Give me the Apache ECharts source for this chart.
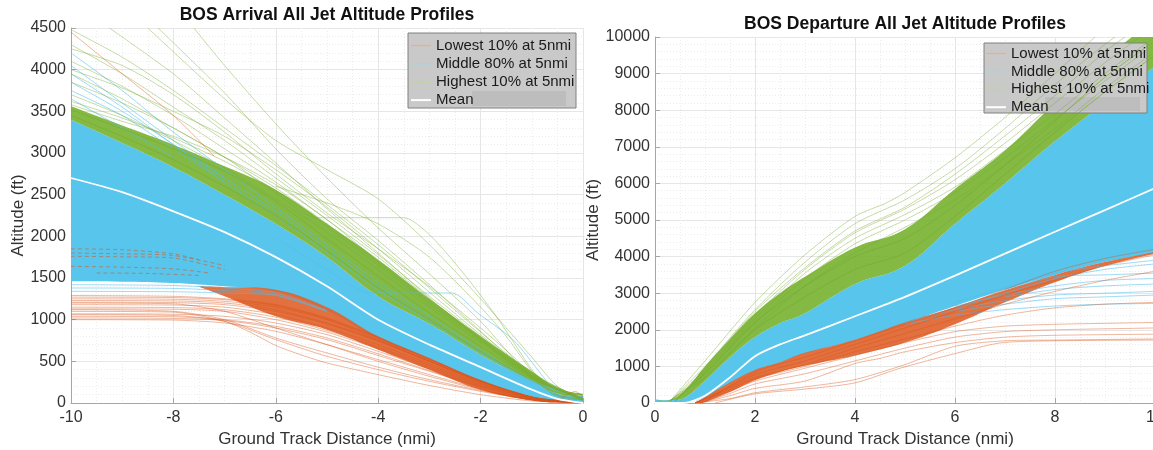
<!DOCTYPE html>
<html>
<head>
<meta charset="utf-8">
<script src="https://cdn.jsdelivr.net/npm/echarts@6/dist/echarts.min.js"></script>
<style>
  html, body { margin: 0; padding: 0; background: #ffffff; }
  #chart { width: 1153px; height: 450px; }
</style>
</head>
<body>
<div id="chart"></div>
<script>
// ---------- Arrival panel (ground track distance, nmi, negative = before threshold) ----------
const arrX = [-10, -9, -8, -7, -6, -5, -4, -3, -2, -1, -0.5, 0];
const arrMean = [2700, 2530, 2300, 2050, 1750, 1400, 1000, 700, 430, 160, 50, 0];
const arrGreenHi = [3560, 3330, 3100, 2840, 2560, 2150, 1720, 1250, 800, 380, 180, 110];
const arrBlueHi = [3400, 3120, 2830, 2500, 2150, 1750, 1280, 950, 580, 260, 110, 90];
const arrBlueLo = [1460, 1455, 1440, 1400, 1340, 1110, 770, 520, 260, 70, 15, 0];
const arrOrangeX = [-7.5, -7, -6, -5, -4, -3, -2, -1, -0.5, 0];
const arrOrangeHi = [1400, 1390, 1360, 1150, 800, 540, 275, 80, 20, 0];
const arrOrangeLo = [1395, 1280, 1040, 880, 640, 400, 160, 30, 5, 0];

// individual arrival tracks [distance, altitude]
const arrGreenTracks = [
  [[-10,4300],[-9,3950],[-8,3550],[-7,3150],[-6,2700],[-5,2250],[-4,1780],[-3,1280],[-2,800],[-1,340],[0,50]],
  [[-9.25,4500],[-8,3950],[-7,3420],[-6,2880],[-5,2330],[-4,1800],[-3,1260],[-2,760],[-1,300],[0,30]],
  [[-8.3,4500],[-7,3720],[-6,3050],[-5,2450],[-4,1950],[-3,1420],[-2,860],[-1,320],[0,30]],
  [[-10,3950],[-9,3650],[-8,3300],[-7,2950],[-6,2520],[-5.2,2224],[-3.5,2224],[-3,2020],[-2.34,1560],[-1.69,1036],[-1.04,436],[-0.71,190],[-0.4,60],[0,40]],
  [[-10,4100],[-9,3800],[-8,3450],[-7,3050],[-6,2650],[-5,2200],[-4,1750],[-3,1250],[-2,780],[-1,330],[0,40]],
  [[-10,4000],[-9,3780],[-8,3500],[-7,3200],[-6,2800],[-5,2350],[-4,1850],[-3,1330],[-2,820],[-1,350],[0,40]],
  [[-10,3850],[-9,3600],[-8,3300],[-7,2950],[-6,2580],[-5,2150],[-4,1680],[-3,1200],[-2,760],[-1,320],[0,40]],
  [[-8.5,4500],[-7,3650],[-6,3150],[-5,2800],[-4,2450],[-3,1900],[-2,1250],[-1,550],[-0.5,200],[0,40]],
  [[-10,4480],[-9,4150],[-8,3750],[-7,3300],[-6,2850],[-5,2380],[-4,1900],[-3,1380],[-2,850],[-1,360],[0,40]],
  [[-10,3700],[-9,3450],[-8,3150],[-7,2820],[-6,2450],[-5,2050],[-4,1600],[-3,1150],[-2,720],[-1,310],[0,40]],
  [[-10,4250],[-9,4050],[-8,3700],[-7,3250],[-6,2750],[-5,2280],[-4,1850],[-3,1400],[-2,900],[-1.3,520],[-0.8,200],[0,40]],
  [[-6,2600],[-5,2400],[-4,2150],[-3,1750],[-2,1150],[-1.5,800],[-1,380],[-0.6,110],[0,40]],
  [[-7.6,4500],[-7,4050],[-6,3350],[-5,2700],[-4,2100],[-3,1550],[-2,980],[-1.2,430],[-0.6,120],[0,40]],
  [[-10,3620],[-9,3420],[-8,3180],[-7,2900],[-6,2550],[-5,2120],[-4,1650],[-3,1180],[-2,740],[-1,320],[0,40]],
  [[-10,3580],[-9,3380],[-8,3200],[-7,2950],[-6,2620],[-5,2200],[-4,1700],[-3,1220],[-2,770],[-1,330],[0,40]]
];
const arrGreenDense = [
  [[-10,3520],[-9,3290],[-8,3050],[-7,2780],[-6,2420],[-5,1970],[-4,1520],[-3,1080],[-2,680],[-1,300],[0,60]],
  [[-10,3450],[-9,3200],[-8,2920],[-7,2600],[-6,2250],[-5,1830],[-4,1380],[-3,1000],[-2,620],[-1,280],[0,50]]
];
const arrBlueTracks = [
  [[-10,4200],[-9,3750],[-8,3250],[-7,2800],[-6,2350],[-5,1900],[-4,1450],[-3,1050],[-2,640],[-1,270],[0,60]],
  [[-10,3950],[-9,3550],[-8,3100],[-7,2700],[-6,2300],[-5,1850],[-4,1400],[-3,1000],[-2,620],[-1,260],[0,60]],
  [[-10,3750],[-9,3450],[-8,3050],[-7,2650],[-6,2250],[-5,1800],[-4,1350],[-3,980],[-2,600],[-1,250],[0,60]],
  [[-10,4050],[-9,3600],[-8,3150],[-7,2700]],
  [[-10,3850],[-9,3500],[-8,3100],[-7,2650]],
  [[-10,3650],[-9,3300],[-8,2950]],
  [[-6,1980],[-5,1600],[-4.16,1320],[-2.56,1320],[-2.05,1076],[-1.36,756],[-0.78,316],[-0.5,100],[0,30]],
  [[-10,1340],[-8,1335],[-7,1320],[-6,1290],[-5,1100]],
  [[-10,1380],[-8,1375],[-7,1350],[-6,1300],[-5,1100]],
  [[-10,1420],[-8,1410],[-7,1380],[-6,1320],[-5,1110]]
];
const arrOrangeTracks = [
  [[-10,1000],[-8,995],[-7,960],[-6,860],[-5,700],[-4,520],[-3,340],[-2,170],[-1,40],[0,0]],
  [[-10,1020],[-8,1015],[-7,990],[-6,900],[-5,760],[-4,570],[-3,380],[-2,190],[-1,45],[0,0]],
  [[-10,1040],[-8,1035],[-7,1000],[-6,920],[-5,780],[-4,590],[-3,390],[-2,200],[-1,50],[0,0]],
  [[-10,1070],[-8,1065],[-7,1040],[-6,960],[-5,820],[-4,620],[-3,410],[-2,210],[-1,55],[0,0]],
  [[-10,1100],[-8,1090],[-7,980],[-6.5,850],[-6,690],[-5.5,576],[-5,480],[-4,340],[-3,210],[-2,100],[-1,25],[0,0]],
  [[-10,1120],[-8,1100],[-7,1000],[-6,780],[-5,600],[-4,430],[-3,280],[-2,150],[-1,40],[0,0]],
  [[-10,1130],[-8,1125],[-7,1100],[-6,1000],[-5,850],[-4,650],[-3,430],[-2,220],[-1,60],[0,0]],
  [[-10,1150],[-8,1145],[-7,1120],[-6,1030],[-5,870],[-4,670],[-3,450],[-2,230],[-1,60],[0,0]],
  [[-10,1180],[-8,1175],[-7,1150],[-6,1060],[-5,900],[-4,700],[-3,470],[-2,240],[-1,60],[0,0]],
  [[-10,1200],[-8,1190],[-7,1100],[-6,900],[-5,700],[-4,500],[-3,320],[-2,160],[-1,40],[0,0]],
  [[-10,1210],[-8,1205],[-7,1180],[-6,1100],[-5,950],[-4,740],[-3,500],[-2,250],[-1,70],[0,0]],
  [[-10,1230],[-8,1225],[-7,1200],[-6,1120],[-5,960],[-4,750],[-3,500],[-2,255],[-1,70],[0,0]],
  [[-10,1250],[-8,1245],[-7,1220],[-6,1150],[-5,1000],[-4,760],[-3,500],[-2,260],[-1,70],[0,0]],
  [[-10,1270],[-8,1265],[-7,1240],[-6,1170],[-5,1010],[-4,780],[-3,520],[-2,265],[-1,70],[0,0]],
  [[-10,1290],[-8,1280],[-7,1250],[-6,1180],[-5,1020],[-4,790],[-3,530],[-2,270],[-1,70],[0,0]],
  [[-10,1060],[-8,1050],[-7,980],[-6,760],[-5,560],[-4,400],[-3,260],[-2,140],[-1,40],[0,0]],
  [[-10,4450],[-9,3950],[-8,3450],[-7.2,2960]],
  [[-1.2,60],[-0.6,15],[-0.3,100],[-0.15,140],[0,70]]
];
const arrOrangeDashed = [
  [[-10,1850],[-9,1840],[-8,1790],[-7.5,1720]],
  [[-10,1800],[-9,1790],[-8,1770],[-7,1650]],
  [[-10,1760],[-9,1755],[-8,1740],[-7,1600]],
  [[-9.5,1560],[-8.5,1555],[-7.5,1530]],
  [[-10,1640],[-9,1630],[-8,1610],[-7.3,1560]]
];

// ---------- Departure panel (distance from runway, nmi) ----------
const depX = [0, 0.3, 0.6, 1, 1.5, 2, 2.5, 3, 4, 5, 6, 7, 8, 9, 10];
const depMean = [0, 0, 5, 200, 700, 1280, 1600, 1850, 2370, 2900, 3480, 4080, 4680, 5270, 5870];
const depGreenHi = [90, 90, 350, 1000, 1750, 2450, 3000, 3450, 4250, 4750, 5850, 6900, 8200, 9400, 10500];
const depBlueHi = [90, 80, 150, 600, 1250, 1800, 2180, 2450, 3250, 3750, 4900, 6000, 7150, 8200, 9200];
const depBlueLo = [0, 0, 0, 150, 540, 880, 1100, 1350, 1720, 2180, 2650, 3100, 3500, 3850, 4100];
const depOrangeX = [0.8, 1, 1.5, 2, 2.5, 3, 4, 5, 6, 7, 8, 9, 10];
const depOrangeHi = [20, 160, 560, 900, 1110, 1370, 1730, 2200, 2620, 3080, 3500, 3850, 4120];
const depOrangeLo = [0, 30, 300, 620, 850, 1020, 1300, 1650, 2150, 2750, 3300, 3750, 4080];

const depGreenTracks = [
  [[0.3,50],[1,1150],[2,2750],[3,4050],[4,5100],[4.6,5450],[5,5750],[6,6700],[7,7800],[8,9000],[8.8,10000]],
  [[0.3,50],[1,1000],[2,2550],[3,3850],[4,4900],[5,5550],[6,6400],[7,7500],[8,8700],[9,9800],[9.2,10000]],
  [[0.3,50],[1,900],[2,2400],[3,3650],[4,4650],[5,5300],[6,6100],[7,7100],[8,8200],[9,9300],[9.7,10000]],
  [[0.4,50],[1,850],[2,2300],[3,3550],[4,4500],[5,5150],[6,5900],[7,6900],[8,7900],[9,9000],[10,10000]],
  [[0.4,50],[1,800],[2,2200],[3,3400],[4,4350],[5,5000],[6,5750],[7,6700],[8,7750],[9,8800],[10,9800]],
  [[0.5,50],[1,700],[2,2050],[3,3200],[4,4100],[5,4800],[6,5550],[7,6500],[8,7500],[9,8600],[10,9600]],
  [[0.4,40],[1,950],[2,2500],[3,3700],[4,4700],[5,5350],[6,6250],[7,7300],[8,8400],[9,9600],[9.4,10000]]
];
const depGreenDense = [
  [[0.3,60],[1,800],[2,2200],[3,3200],[4,4000],[5,4500],[6,5400],[7,6500],[8,7700],[9,8900],[10,9900]],
  [[0.3,60],[1,700],[2,2000],[3,2900],[4,3650],[5,4100],[6,5100],[7,6250],[8,7400],[9,8500],[10,9500]]
];
const depBlueTracks = [
  [[5,2150],[6,2400],[7,2550],[8,2650],[9,2700],[10,2720]],
  [[5,2200],[6,2550],[7,2800],[8,2950],[9,3000],[10,3050]],
  [[6,2500],[7,2700],[8,2850],[9,2900],[10,2950]],
  [[6,2650],[7,2950],[8,3200],[9,3350],[10,3400]],
  [[6,2600],[7,3000],[8,3400],[9,3650],[10,3800]],
  [[6,2750],[7,3150],[8,3550],[9,3750],[10,3900]],
  [[7,2900],[8,3100],[9,3200],[10,3250]],
  [[7,3100],[8,3450],[9,3500],[10,3550]]
];
const depOrangeTracks = [
  [[0.8,0],[1.5,120],[2,280],[3,440],[4,640],[5,1050],[6,1550],[7,1700],[8,1720],[10,1750]],
  [[0.9,0],[1.5,200],[2,400],[3,600],[4,1080],[4.5,1220],[5,1400],[6,1650],[7,1800],[8,1850],[10,1880]],
  [[0.9,0],[1.5,260],[2,520],[3,800],[4,1150],[5,1500],[6,1800],[7,1950],[8,2000],[10,2050]],
  [[0.8,0],[1.5,330],[2,600],[3,950],[4,1300],[5,1650],[6,1950],[7,2100],[8,2150],[10,2200]],
  [[0.8,0],[1.5,380],[2,660],[3,1000],[4,1400],[5,1750],[6,2100],[7,2400],[8,2600],[9,2700],[10,2750]],
  [[0.8,0],[1.5,420],[2,700],[3,1050],[4,1500],[5,1900],[6,2300],[7,2700],[8,3050],[9,3350],[10,3600]],
  [[0.8,0],[1.5,450],[2,780],[3,1150],[4,1600],[5,2050],[6,2500],[7,2950],[8,3350],[9,3750],[10,4050]],
  [[1,40],[2,850],[3,1250],[4,1700],[5,2150],[6,2600],[7,3100],[8,3600],[9,3950],[10,4200]],
  [[1.2,0],[2,250],[3,380],[4,550],[4.9,950],[6,1350],[6.9,1640],[8,1700],[10,1720]]
];

// ---------- names and tick settings ----------
const groupNames = ['Lowest 10% at 5nmi', 'Middle 80% at 5nmi', 'Highest 10% at 5nmi', 'Mean'];
const arrTicks = { min: -10, max: 0, step: 2, yMax: 4500, yStep: 500 };
const depTicks = { min: 0, max: 10, step: 2, yMax: 10000, yStep: 1000 };

// ---------- styling ----------
const FONT = "'Liberation Sans', Arial, Helvetica, sans-serif";
const C_BLUE = '#58c5ec';
const C_GREEN = '#7ab434';
const C_ORANGE = '#e0602a';
const C_BLUE_T = 'rgba(77,190,238,0.55)';
const C_GREEN_T = 'rgba(119,172,48,0.42)';
const C_ORANGE_T = 'rgba(217,83,25,0.42)';

function track(name, pts, ax, color, width, extra) {
  return Object.assign({
    type: 'line', name: name, xAxisIndex: ax, yAxisIndex: ax,
    data: pts, symbol: 'none', showSymbol: false,
    smooth: 0.25, silent: true, animation: false,
    emphasis: { disabled: true },
    lineStyle: { color: color, width: width }
  }, extra || {});
}

// Catmull-Rom style curve through pixel points, as SVG path commands
function curveThrough(pts, first) {
  let d = first ? 'M' + pts[0][0] + ',' + pts[0][1] : 'L' + pts[0][0] + ',' + pts[0][1];
  const k = 0.2;
  for (let i = 0; i < pts.length - 1; i++) {
    const p0 = pts[i - 1] || pts[i], p1 = pts[i], p2 = pts[i + 1], p3 = pts[i + 2] || p2;
    const c1x = p1[0] + (p2[0] - p0[0]) * k, c1y = p1[1] + (p2[1] - p0[1]) * k;
    const c2x = p2[0] - (p3[0] - p1[0]) * k, c2y = p2[1] - (p3[1] - p1[1]) * k;
    d += 'C' + c1x + ',' + c1y + ' ' + c2x + ',' + c2y + ' ' + p2[0] + ',' + p2[1];
  }
  return d;
}

// filled envelope between a lower and an upper edge, drawn through the axes' scales
function band(name, xs, lo, hi, ax, color, opacity) {
  return {
    type: 'custom', name: name, xAxisIndex: ax, yAxisIndex: ax,
    silent: true, animation: false, clip: true,
    data: xs.map((x, i) => [x, lo[i], hi[i]]),
    encode: { x: 0, y: [1, 2] },
    renderItem: function (params, api) {
      if (params.dataIndex !== 0) return null;
      const up = xs.map((x, i) => api.coord([x, hi[i]]));
      const dn = xs.map((x, i) => api.coord([x, lo[i]])).reverse();
      return {
        type: 'path',
        shape: { pathData: curveThrough(up, true) + curveThrough(dn, false) + 'Z' },
        style: { fill: color, opacity: opacity, stroke: null }
      };
    }
  };
}

function panelSeries(ax, d) {
  const s = [];
  const [LOW, MID, HIGH, MEAN] = groupNames;
  s.push(band(MID, d.x, d.blueLo, d.blueHi, ax, C_BLUE, 1));
  d.blueTracks.forEach(p => s.push(track(MID, p, ax, C_BLUE_T, 1)));
  s.push(band(HIGH, d.x, d.blueHi, d.greenHi, ax, C_GREEN, 0.92));
  d.greenDense.forEach(p => s.push(track(HIGH, p, ax, 'rgba(119,172,48,0.7)', 1)));
  d.greenTracks.forEach(p => s.push(track(HIGH, p, ax, C_GREEN_T, 1)));
  s.push(band(LOW, d.ox, d.orangeLo, d.orangeHi, ax, C_ORANGE, 0.9));
  d.orangeTracks.forEach(p => s.push(track(LOW, p, ax, C_ORANGE_T, 1)));
  (d.orangeDashed || []).forEach(p => s.push(track(LOW, p, ax, 'rgba(217,83,25,0.55)', 1, {
    lineStyle: { color: 'rgba(217,83,25,0.55)', width: 1, type: [4, 3] }
  })));
  s.push(track(MEAN, d.x.map((x, i) => [x, d.mean[i]]), ax, '#ffffff', 1.8, { z: 5 }));
  return s;
}

const series = [].concat(
  panelSeries(0, {
    x: arrX, mean: arrMean, greenHi: arrGreenHi, blueHi: arrBlueHi, blueLo: arrBlueLo,
    ox: arrOrangeX, orangeHi: arrOrangeHi, orangeLo: arrOrangeLo,
    greenTracks: arrGreenTracks, greenDense: arrGreenDense, blueTracks: arrBlueTracks,
    orangeTracks: arrOrangeTracks, orangeDashed: arrOrangeDashed
  }),
  panelSeries(1, {
    x: depX, mean: depMean, greenHi: depGreenHi, blueHi: depBlueHi, blueLo: depBlueLo,
    ox: depOrangeX, orangeHi: depOrangeHi, orangeLo: depOrangeLo,
    greenTracks: depGreenTracks, greenDense: depGreenDense, blueTracks: depBlueTracks,
    orangeTracks: depOrangeTracks
  })
);

const legendColors = ['#eeab8e', '#9dd6ee', '#bcd69a', '#ffffff'];
function legendData() {
  return groupNames.map((n, i) => ({
    name: n,
    icon: i === 3 ? 'path://M0,0H20V2H0Z' : 'path://M0,0H20V1.3H0Z',
    itemStyle: { color: legendColors[i], opacity: 1, borderWidth: 0 }
  }));
}
function legendOpt(left, top, gap) {
  return {
    orient: 'vertical', left: left, top: top, padding: 0,
    itemWidth: 20, itemHeight: 14, itemGap: gap, symbolKeepAspect: true,
    selectedMode: false, backgroundColor: 'transparent',
    textStyle: { fontFamily: FONT, fontSize: 15, color: '#1a1a1a' },
    data: legendData()
  };
}

const plainNumber = v => String(v);

function xAxisOpt(ax, t, nameGap) {
  return {
    type: 'value', gridIndex: ax, min: t.min, max: t.max, interval: t.step,
    name: 'Ground Track Distance (nmi)', nameLocation: 'middle', nameGap: nameGap,
    nameTextStyle: { fontFamily: FONT, fontSize: 17, color: '#333' },
    axisLine: { show: true, onZero: false, lineStyle: { color: '#a6a6a6', width: 1 } },
    axisTick: { show: true, inside: true, length: 5, lineStyle: { color: '#a6a6a6' } },
    axisLabel: { fontFamily: FONT, fontSize: 16, color: '#333', margin: 7, formatter: plainNumber,
                 showMaxLabel: true, showMinLabel: true },
    splitLine: { show: true, lineStyle: { color: '#e6e6e6', width: 1 } },
    minorTick: { show: false, splitNumber: 4 },
    minorSplitLine: { show: true, lineStyle: { color: '#ececec', width: 1, type: [1, 2] } }
  };
}
function yAxisOpt(ax, t, nameGap) {
  return {
    type: 'value', gridIndex: ax, min: 0, max: t.yMax, interval: t.yStep,
    name: 'Altitude (ft)', nameLocation: 'middle', nameGap: nameGap, nameRotate: 90,
    nameTextStyle: { fontFamily: FONT, fontSize: 17, color: '#333' },
    axisLine: { show: true, onZero: false, lineStyle: { color: '#a6a6a6', width: 1 } },
    axisTick: { show: true, inside: true, length: 5, lineStyle: { color: '#a6a6a6' } },
    axisLabel: { fontFamily: FONT, fontSize: 16, color: '#333', margin: 5, formatter: plainNumber },
    splitLine: { show: true, lineStyle: { color: '#e6e6e6', width: 1 } },
    minorTick: { show: false, splitNumber: 5 },
    minorSplitLine: { show: true, lineStyle: { color: '#ececec', width: 1, type: [1, 2] } }
  };
}

const option = {
  backgroundColor: '#ffffff',
  animation: false,
  grid: [
    { left: 71, width: 512, top: 28, height: 375, containLabel: false, outerBoundsMode: 'none' },
    { left: 655, width: 500, top: 37, height: 366, containLabel: false, outerBoundsMode: 'none' }
  ],
  xAxis: [xAxisOpt(0, arrTicks, 28), xAxisOpt(1, depTicks, 28)],
  yAxis: [yAxisOpt(0, arrTicks, 32), yAxisOpt(1, depTicks, 41)],
  legend: [legendOpt(411, 38, 3.2), legendOpt(986, 46, 2.9)],
  graphic: [
    { type: 'rect', z: 3, silent: true, shape: { x: 408, y: 33, width: 168, height: 75 },
      style: { fill: '#c9c9c9', stroke: '#808080', lineWidth: 1 } },
    { type: 'rect', z: 3, silent: true, shape: { x: 472, y: 91, width: 94, height: 15 },
      style: { fill: '#bdbdbd' } },
    { type: 'rect', z: 3, silent: true, shape: { x: 984, y: 43, width: 163, height: 70 },
      style: { fill: '#c9c9c9', stroke: '#808080', lineWidth: 1 } },
    { type: 'rect', z: 3, silent: true, shape: { x: 1045, y: 97, width: 95, height: 14 },
      style: { fill: '#bdbdbd' } },
    { type: 'text', z: 10, silent: true, x: 327, y: 15,
      style: { text: 'BOS Arrival All Jet Altitude Profiles', align: 'center', verticalAlign: 'middle',
               font: 'bold 17.5px ' + FONT, fill: '#111' } },
    { type: 'text', z: 10, silent: true, x: 905, y: 24,
      style: { text: 'BOS Departure All Jet Altitude Profiles', align: 'center', verticalAlign: 'middle',
               font: 'bold 17.5px ' + FONT, fill: '#111' } }
  ],
  series: series
};

const chart = echarts.init(document.getElementById('chart'), null, { renderer: 'canvas' });
chart.setOption(option);
</script>
</body>
</html>
